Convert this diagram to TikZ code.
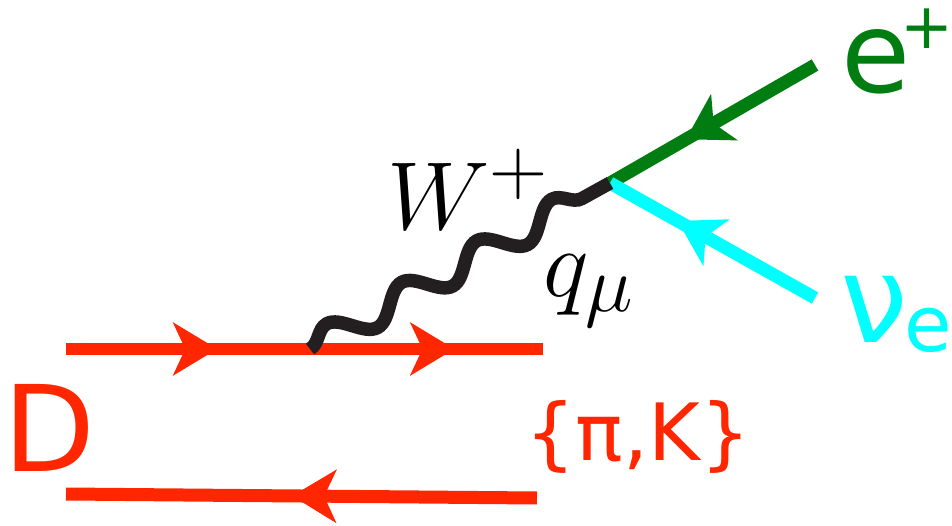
\documentclass[tikz,border=0pt]{standalone}
\usepackage{fontspec}
\newfontfamily\labelfont{DejaVu Sans}
\usepackage{tikz}
\usetikzlibrary{positioning, arrows.meta, decorations.markings, decorations.pathmorphing}
\definecolor{quarkred}{RGB}{255,38,0}
\definecolor{posgreen}{RGB}{0,125,16}
\definecolor{nucyan}{RGB}{0,255,255}
\definecolor{wblack}{RGB}{35,31,32}

\begin{document}
\begin{tikzpicture}[x=0.02cm, y=-0.02cm, every node/.style={inner sep=0pt},
  fermion/.style={line width=0.26cm, postaction={decorate},
    decoration={markings, mark=at position #1 with {\arrow{Stealth[length=0.88cm,width=1.05cm,inset=0.24cm]}}}},
  wboson/.style={draw=wblack, line width=0.27cm, decorate,
    decoration={snake, segment length=1.715cm, amplitude=0.28cm}},
  mathlabel/.style={anchor=base west, font=\Huge}]
  \useasboundingbox (0,0) rectangle (952,526);
  % vertices and free ends
  \coordinate (qin) at (66,349);
  \coordinate (v1) at (310,349);
  \coordinate (qout) at (543,349);
  \coordinate (bin) at (537,498);
  \coordinate (bout) at (66,494);
  \coordinate (v2) at (610,183);
  \coordinate (eend) at (815,65);
  \coordinate (nuend) at (815,298);
  % lines
  \draw[quarkred, fermion=0.62] (qin) -- (v1);
  \draw[quarkred, fermion=0.62] (v1) -- (qout);
  \draw[quarkred, fermion=0.52] (bin) -- (bout);
  \draw[posgreen, fermion=0.63] (eend) -- (v2);
  \draw[nucyan, fermion=0.67] (nuend) -- (v2);
  \draw[wboson] (v1) -- (v2);
  % labels
  \node[anchor=base west, text=quarkred, font=\labelfont\fontsize{68}{68}\selectfont] (D) at (3,471) {D};
  \node[anchor=base west, text=quarkred, font=\labelfont\fontsize{45}{45}\selectfont] (piK) at (525,460) {\{π,K\}};
  \node[anchor=base west, text=posgreen, font=\labelfont\fontsize{64}{64}\selectfont] (epos) at (841,93) {e\kern-0.2cm\raisebox{0.9cm}{\fontsize{36}{36}\selectfont +}\kern-0.2cm};
  \node[anchor=base west, text=nucyan, font=\labelfont\fontsize{69}{69}\selectfont] (nue) at (840,342) {ν\kern-0.08cm\raisebox{-0.2cm}{\fontsize{44}{44}\selectfont e}};
  \node[mathlabel] (W) at (387,230) {\scalebox{2.21}{$W^+$}};
  \node[mathlabel] (q) at (543,297) {\scalebox{2.21}{$q_\mu$}};
\end{tikzpicture}
\end{document}
